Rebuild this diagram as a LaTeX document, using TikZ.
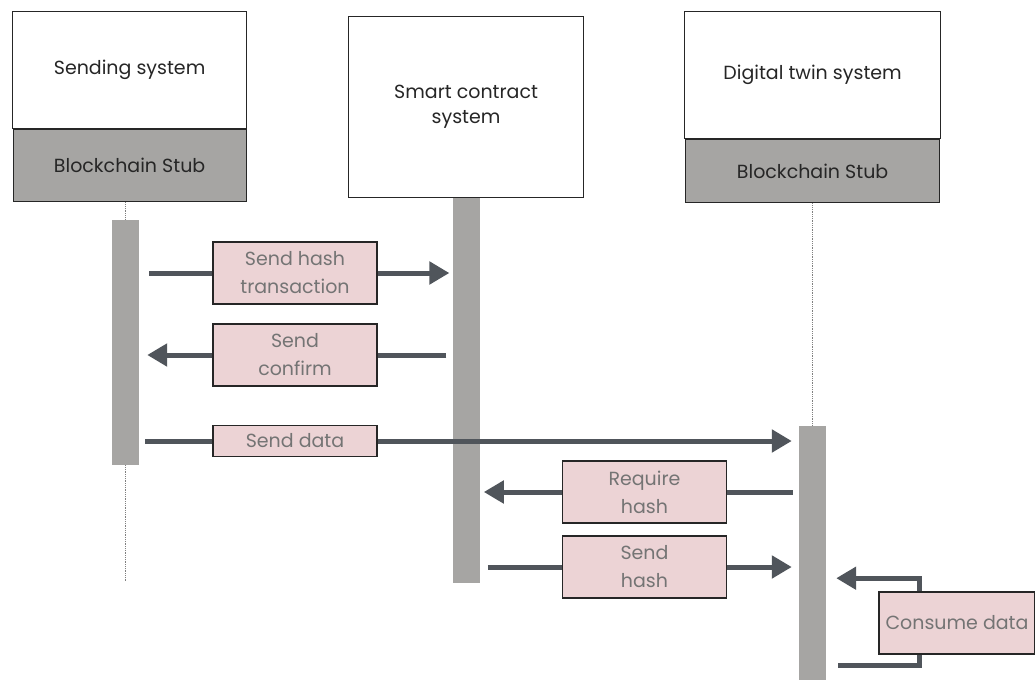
\documentclass[tikz,border=0pt]{standalone}
\usepackage{fontspec}
\setmainfont{Poppins}
\usetikzlibrary{arrows.meta,calc}
\definecolor{stubgray}{HTML}{A6A5A3}
\definecolor{msgline}{HTML}{50555B}
\definecolor{msgfill}{HTML}{ECD3D5}
\definecolor{msgtext}{HTML}{747474}
\definecolor{boxtext}{HTML}{262626}

\begin{document}
\begin{tikzpicture}[x=1pt, y=-1pt,
    sysbox/.style={draw=black!85, line width=1.2pt, fill=white, inner sep=0pt,
                   text=boxtext, align=center, font=\fontsize{19}{25}\selectfont},
    stubbox/.style={sysbox, fill=stubgray},
    bar/.style={fill=stubgray, inner sep=0pt, minimum width=27pt},
    lbl/.style={draw=black!85, line width=1.2pt, fill=msgfill, text=msgtext, align=center,
                inner sep=0pt, minimum width=164pt, minimum height=62pt,
                font=\fontsize{19}{28}\selectfont},
    wire/.style={draw=msgline, line width=5pt},
    msg/.style={wire, -{Triangle[length=20pt,width=22pt]}},
    life/.style={draw=gray, densely dotted, line width=0.8pt}]
  \useasboundingbox (0,0) rectangle (1035,682);

  % lifeline heads
  \node[sysbox, anchor=north west, minimum width=234pt, minimum height=117pt] (send) at (12,11) {Sending system};
  \node[stubbox, anchor=north, minimum width=233pt, minimum height=72pt] (sendstub) at (send.south) {Blockchain Stub};
  \node[sysbox, anchor=north west, minimum width=235pt, minimum height=181pt] (sc) at (348,16) {Smart contract\\system};
  \node[sysbox, anchor=north west, minimum width=256pt, minimum height=127pt] (dt) at (684,11) {Digital twin system};
  \node[stubbox, anchor=north, minimum width=254pt, minimum height=63pt] (dtstub) at (dt.south) {Blockchain Stub};

  % lifelines and activation bars
  \coordinate (sendend) at (125.5,582);
  \draw[life] (sendend |- sendstub.south) -- (sendend);
  \node[bar, anchor=north, minimum height=245pt] (sendbar) at (125.5,220) {};
  \node[bar, anchor=north, minimum height=385pt] (scbar) at (sc.south) {};
  \node[bar, anchor=north, minimum height=254pt] (dtbar) at (812.5,426) {};
  \draw[life] (dtbar.north |- dtstub.south) -- (dtbar.north);

  % message labels
  \node[lbl] (hashtx) at (295,273) {Send hash\\transaction};
  \node[lbl] (confirm) at (295,355) {Send\\confirm};
  \node[lbl, minimum height=31pt] (data) at (295,441) {Send data};
  \node[lbl] (reqhash) at (644.5,492) {Require\\hash};
  \node[lbl] (sendhash) at (644.5,567) {Send\\hash};
  \node[lbl, minimum width=156pt] (consume) at (957,623) {Consume data};

  % messages
  \draw[wire] ($(sendbar.east |- hashtx.west)+(10,0)$) -- (hashtx.west);
  \draw[msg] (hashtx.east) -- ($(scbar.west |- hashtx.east)+(-3,0)$);
  \draw[wire] ($(scbar.west |- confirm.east)+(-6,0)$) -- (confirm.east);
  \draw[msg] (confirm.west) -- ($(sendbar.east |- confirm.west)+(8,0)$);
  \draw[wire] ($(sendbar.east |- data.west)+(6,0)$) -- (data.west);
  \draw[msg] (data.east) -- ($(dtbar.west |- data.east)+(-7,0)$);
  \draw[wire] ($(dtbar.west |- reqhash.east)+(-6,0)$) -- (reqhash.east);
  \draw[msg] (reqhash.west) -- ($(scbar.east |- reqhash.west)+(4,0)$);
  \draw[wire] ($(scbar.east |- sendhash.west)+(8,0)$) -- (sendhash.west);
  \draw[msg] (sendhash.east) -- ($(dtbar.west |- sendhash.east)+(-7,0)$);
  \draw[wire] ($(dtbar.east)+(12,112)$) -| ([xshift=41pt]consume.south west);
  \draw[msg] ([xshift=41pt]consume.north west) |- ($(dtbar.east)+(10,25)$);
\end{tikzpicture}
\end{document}
